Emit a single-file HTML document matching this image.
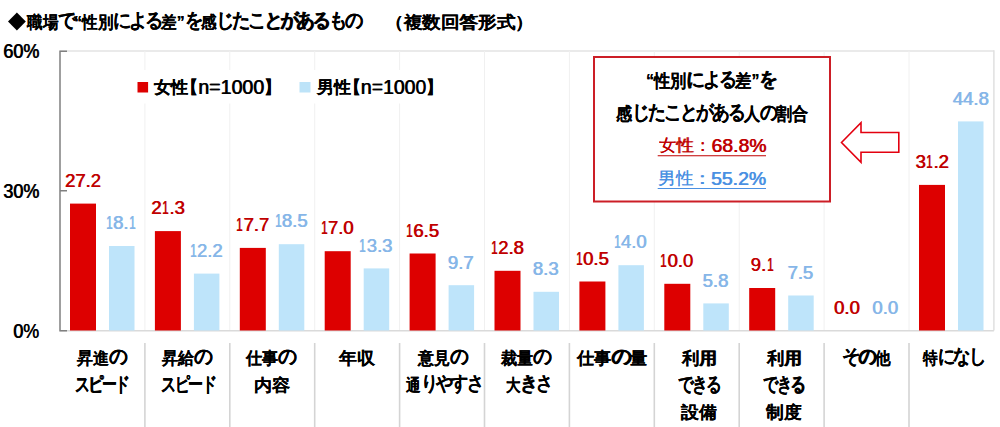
<!DOCTYPE html>
<html><head><meta charset="utf-8"><style>
html,body{margin:0;padding:0;background:#fff;}
body{width:1000px;height:427px;position:relative;overflow:hidden;font-family:"Liberation Sans",sans-serif;}

.t{position:absolute;white-space:nowrap;font-weight:bold;line-height:1;transform-origin:0 0;text-shadow:0.25px 0 0;}
.k{font-size:1.15em;letter-spacing:var(--kls,-0.1em);vertical-align:0.06em;}
.dm{vertical-align:-0.06em;}
.one{display:inline-block;transform:scaleX(0.62);margin:0 -0.07em;}
.d{font-size:var(--ds);font-weight:normal;text-shadow:0.7px 0 0;}

</style></head><body>
<svg width="1000" height="427" style="position:absolute;left:0;top:0"><line x1="60.0" y1="51" x2="993.9" y2="51" stroke="#E3E3E3" stroke-width="1.5"/><line x1="144.9" y1="51" x2="144.9" y2="330.5" stroke="#F0F0F0" stroke-width="1"/><line x1="229.8" y1="51" x2="229.8" y2="330.5" stroke="#F0F0F0" stroke-width="1"/><line x1="314.7" y1="51" x2="314.7" y2="330.5" stroke="#F0F0F0" stroke-width="1"/><line x1="399.6" y1="51" x2="399.6" y2="330.5" stroke="#F0F0F0" stroke-width="1"/><line x1="484.5" y1="51" x2="484.5" y2="330.5" stroke="#F0F0F0" stroke-width="1"/><line x1="569.4" y1="51" x2="569.4" y2="330.5" stroke="#F0F0F0" stroke-width="1"/><line x1="654.3" y1="51" x2="654.3" y2="330.5" stroke="#F0F0F0" stroke-width="1"/><line x1="739.2" y1="51" x2="739.2" y2="330.5" stroke="#F0F0F0" stroke-width="1"/><line x1="824.1" y1="51" x2="824.1" y2="330.5" stroke="#F0F0F0" stroke-width="1"/><line x1="909.0" y1="51" x2="909.0" y2="330.5" stroke="#F0F0F0" stroke-width="1"/><line x1="993.9" y1="50.3" x2="993.9" y2="330.5" stroke="#E0E0E0" stroke-width="1.5"/><line x1="144.9" y1="343" x2="144.9" y2="427" stroke="#D4D4D4" stroke-width="1.6"/><line x1="229.8" y1="343" x2="229.8" y2="427" stroke="#D4D4D4" stroke-width="1.6"/><line x1="314.7" y1="343" x2="314.7" y2="427" stroke="#D4D4D4" stroke-width="1.6"/><line x1="399.6" y1="343" x2="399.6" y2="427" stroke="#D4D4D4" stroke-width="1.6"/><line x1="484.5" y1="343" x2="484.5" y2="427" stroke="#D4D4D4" stroke-width="1.6"/><line x1="569.4" y1="343" x2="569.4" y2="427" stroke="#D4D4D4" stroke-width="1.6"/><line x1="654.3" y1="343" x2="654.3" y2="427" stroke="#D4D4D4" stroke-width="1.6"/><line x1="739.2" y1="343" x2="739.2" y2="427" stroke="#D4D4D4" stroke-width="1.6"/><line x1="824.1" y1="343" x2="824.1" y2="427" stroke="#D4D4D4" stroke-width="1.6"/><line x1="909.0" y1="343" x2="909.0" y2="427" stroke="#D4D4D4" stroke-width="1.6"/><line x1="60.0" y1="330.7" x2="993.9" y2="330.7" stroke="#DADADA" stroke-width="1.5"/><rect x="70.0" y="203.6" width="26" height="126.9" fill="#DD0000"/><rect x="109.0" y="246.0" width="25.5" height="84.5" fill="#BEE4FA"/><rect x="154.9" y="231.1" width="26" height="99.4" fill="#DD0000"/><rect x="193.9" y="273.6" width="25.5" height="56.9" fill="#BEE4FA"/><rect x="239.8" y="247.9" width="26" height="82.6" fill="#DD0000"/><rect x="278.8" y="244.2" width="25.5" height="86.3" fill="#BEE4FA"/><rect x="324.7" y="251.2" width="26" height="79.3" fill="#DD0000"/><rect x="363.7" y="268.4" width="25.5" height="62.1" fill="#BEE4FA"/><rect x="409.6" y="253.5" width="26" height="77.0" fill="#DD0000"/><rect x="448.6" y="285.2" width="25.5" height="45.3" fill="#BEE4FA"/><rect x="494.5" y="270.8" width="26" height="59.7" fill="#DD0000"/><rect x="533.5" y="291.8" width="25.5" height="38.7" fill="#BEE4FA"/><rect x="579.4" y="281.5" width="26" height="49.0" fill="#DD0000"/><rect x="618.4" y="265.2" width="25.5" height="65.3" fill="#BEE4FA"/><rect x="664.3" y="283.8" width="26" height="46.7" fill="#DD0000"/><rect x="703.3" y="303.4" width="25.5" height="27.1" fill="#BEE4FA"/><rect x="749.2" y="288.0" width="26" height="42.5" fill="#DD0000"/><rect x="788.2" y="295.5" width="25.5" height="35.0" fill="#BEE4FA"/><rect x="919.0" y="184.9" width="26" height="145.6" fill="#DD0000"/><rect x="958.0" y="121.4" width="25.5" height="209.1" fill="#BEE4FA"/><path d="M67 51.3 H60.0 V330.8 H67 M60.0 190.8 H67" fill="none" stroke="#808080" stroke-width="1.5"/><rect x="594" y="57" width="236" height="144.5" fill="#fff" stroke="#CC1E26" stroke-width="2"/><path d="M841.5 142.5 L861 122.8 V132.5 H898.8 V152.3 H861 V162.2 Z" fill="#fff" stroke="#E3000F" stroke-width="1.6"/><rect x="125" y="70" width="320" height="33.5" fill="#fff"/><path d="M8 21.5 L16.9 12.6 L25.8 21.5 L16.9 30.4 Z" fill="#000"/><rect x="137.5" y="82" width="10.6" height="10.5" fill="#DD0000"/><rect x="299.5" y="82" width="11" height="10.5" fill="#BDE3F8"/><line x1="657.7" y1="155.7" x2="766" y2="155.7" stroke="#C00000" stroke-width="1.1"/><line x1="657.7" y1="188.5" x2="766" y2="188.5" stroke="#4A90E2" stroke-width="1.1"/></svg>
<div class="t" style="left:27.20px;top:10.40px;color:#000;font-size:17.4px;--ds:1.0em;text-shadow:0.2px 0 0;--kls:-0.12em;transform:scaleX(0.9120);">職場<span class="k">で</span>“性別<span class="k">による</span>差”<span class="k">を</span>感<span class="k">じたことがあるもの</span></div><div class="t" style="left:385.16px;top:14.00px;color:#000;font-size:17.4px;--ds:1.0em;text-shadow:0.2px 0 0;transform:scaleX(1.0940);">（複数回答形式）</div><div class="t" style="left:2.99px;top:42.20px;color:#000;font-size:19.8px;--ds:1.0em;transform:scaleX(0.9103);"><span class="d">60%</span></div><div class="t" style="left:2.99px;top:181.80px;color:#000;font-size:19.8px;--ds:1.0em;transform:scaleX(0.9103);"><span class="d">30%</span></div><div class="t" style="left:13.09px;top:321.80px;color:#000;font-size:19.8px;--ds:1.0em;transform:scaleX(0.9071);"><span class="d">0%</span></div><div class="t" style="left:154.30px;top:78.20px;color:#000;font-size:17.4px;--ds:1.12em;transform:scaleX(1.0060);">女性<span style="margin-left:-0.42em">【</span><span class="d dm">n=1000</span>】</div><div class="t" style="left:317.40px;top:78.20px;color:#000;font-size:17.4px;--ds:1.12em;transform:scaleX(0.9974);">男性<span style="margin-left:-0.42em">【</span><span class="d dm">n=1000</span>】</div><div class="t" style="left:646.10px;top:69.00px;color:#000;font-size:17.6px;--ds:1.0em;transform:scaleX(0.9028);">“性別<span class="k">による</span>差”<span class="k">を</span></div><div class="t" style="left:616.00px;top:101.80px;color:#000;font-size:17.6px;--ds:1.0em;transform:scaleX(0.8903);">感<span class="k">じたことがある</span>人<span class="k">の</span>割合</div><div class="t" style="left:658.80px;top:137.30px;color:#C00000;font-size:17.4px;--ds:1.08em;font-weight:normal;text-shadow:0.35px 0 0;transform:scaleX(1.0269);">女性：<span class="d dm">68.8%</span></div><div class="t" style="left:657.97px;top:169.60px;color:#4A90E2;font-size:17.4px;--ds:1.08em;font-weight:normal;text-shadow:0.35px 0 0;transform:scaleX(1.0340);">男性：<span class="d dm">55.2%</span></div><div class="t" style="left:64.70px;top:171.87px;color:#C00000;font-size:18.5px;--ds:1.0em;"><span class="d">27.2</span></div><div class="t" style="left:105.00px;top:214.33px;color:#86B6E8;font-size:18.5px;--ds:1.0em;"><span class="d"><span class="one">1</span>8.<span class="one">1</span></span></div><div class="t" style="left:151.10px;top:199.40px;color:#C00000;font-size:18.5px;--ds:1.0em;"><span class="d">2<span class="one">1</span>.3</span></div><div class="t" style="left:188.90px;top:241.87px;color:#86B6E8;font-size:18.5px;--ds:1.0em;"><span class="d"><span class="one">1</span>2.2</span></div><div class="t" style="left:235.50px;top:216.20px;color:#C00000;font-size:18.5px;--ds:1.0em;"><span class="d"><span class="one">1</span>7.7</span></div><div class="t" style="left:273.80px;top:212.47px;color:#86B6E8;font-size:18.5px;--ds:1.0em;"><span class="d"><span class="one">1</span>8.5</span></div><div class="t" style="left:319.90px;top:219.47px;color:#C00000;font-size:18.5px;--ds:1.0em;"><span class="d"><span class="one">1</span>7.0</span></div><div class="t" style="left:358.70px;top:236.73px;color:#86B6E8;font-size:18.5px;--ds:1.0em;"><span class="d"><span class="one">1</span>3.3</span></div><div class="t" style="left:405.30px;top:221.80px;color:#C00000;font-size:18.5px;--ds:1.0em;"><span class="d"><span class="one">1</span>6.5</span></div><div class="t" style="left:447.60px;top:253.53px;color:#86B6E8;font-size:18.5px;--ds:1.0em;"><span class="d">9.7</span></div><div class="t" style="left:490.20px;top:239.07px;color:#C00000;font-size:18.5px;--ds:1.0em;"><span class="d"><span class="one">1</span>2.8</span></div><div class="t" style="left:532.50px;top:260.07px;color:#86B6E8;font-size:18.5px;--ds:1.0em;"><span class="d">8.3</span></div><div class="t" style="left:575.10px;top:249.80px;color:#C00000;font-size:18.5px;--ds:1.0em;"><span class="d"><span class="one">1</span>0.5</span></div><div class="t" style="left:612.90px;top:233.47px;color:#86B6E8;font-size:18.5px;--ds:1.0em;"><span class="d"><span class="one">1</span>4.0</span></div><div class="t" style="left:659.50px;top:252.13px;color:#C00000;font-size:18.5px;--ds:1.0em;"><span class="d"><span class="one">1</span>0.0</span></div><div class="t" style="left:702.30px;top:271.73px;color:#86B6E8;font-size:18.5px;--ds:1.0em;"><span class="d">5.8</span></div><div class="t" style="left:750.40px;top:256.33px;color:#C00000;font-size:18.5px;--ds:1.0em;"><span class="d">9.<span class="one">1</span></span></div><div class="t" style="left:787.20px;top:263.80px;color:#86B6E8;font-size:18.5px;--ds:1.0em;"><span class="d">7.5</span></div><div class="t" style="left:833.80px;top:298.80px;color:#C00000;font-size:18.5px;--ds:1.0em;"><span class="d">0.0</span></div><div class="t" style="left:872.10px;top:298.80px;color:#86B6E8;font-size:18.5px;--ds:1.0em;"><span class="d">0.0</span></div><div class="t" style="left:915.20px;top:153.20px;color:#C00000;font-size:18.5px;--ds:1.0em;"><span class="d">3<span class="one">1</span>.2</span></div><div class="t" style="left:952.50px;top:89.73px;color:#86B6E8;font-size:18.5px;--ds:1.0em;"><span class="d">44.8</span></div><div class="t" style="left:76.90px;top:346.60px;color:#000;font-size:17.3px;--ds:1.0em;transform:scaleX(0.9389);">昇進<span class="k">の</span></div><div class="t" style="left:75.36px;top:375.30px;color:#000;font-size:17.3px;--ds:1.0em;transform:scaleX(0.7437);"><span class="k">スピード</span></div><div class="t" style="left:161.90px;top:346.60px;color:#000;font-size:17.3px;--ds:1.0em;transform:scaleX(0.9444);">昇給<span class="k">の</span></div><div class="t" style="left:160.65px;top:375.30px;color:#000;font-size:17.3px;--ds:1.0em;transform:scaleX(0.7507);"><span class="k">スピード</span></div><div class="t" style="left:245.90px;top:346.60px;color:#000;font-size:17.3px;--ds:1.0em;transform:scaleX(0.9481);">仕事<span class="k">の</span></div><div class="t" style="left:253.94px;top:376.80px;color:#000;font-size:17.3px;--ds:1.0em;transform:scaleX(1.0606);">内容</div><div class="t" style="left:338.90px;top:349.60px;color:#000;font-size:17.3px;--ds:1.0em;transform:scaleX(1.0559);">年収</div><div class="t" style="left:417.84px;top:346.60px;color:#000;font-size:17.3px;--ds:1.0em;transform:scaleX(0.9364);">意見<span class="k">の</span></div><div class="t" style="left:405.50px;top:373.80px;color:#000;font-size:17.3px;--ds:1.0em;transform:scaleX(0.8534);">通<span class="k">りやすさ</span></div><div class="t" style="left:500.90px;top:346.60px;color:#000;font-size:17.3px;--ds:1.0em;transform:scaleX(0.9481);">裁量<span class="k">の</span></div><div class="t" style="left:506.10px;top:373.80px;color:#000;font-size:17.3px;--ds:1.0em;transform:scaleX(0.8500);">大<span class="k">きさ</span></div><div class="t" style="left:577.30px;top:346.60px;color:#000;font-size:17.3px;--ds:1.0em;transform:scaleX(1.0130);">仕事<span class="k">の</span>量</div><div class="t" style="left:682.32px;top:349.60px;color:#000;font-size:17.3px;--ds:1.0em;transform:scaleX(1.0235);">利用</div><div class="t" style="left:677.90px;top:375.30px;color:#000;font-size:17.3px;--ds:1.0em;transform:scaleX(0.7852);"><span class="k">できる</span></div><div class="t" style="left:681.30px;top:404.00px;color:#000;font-size:17.3px;--ds:1.0em;transform:scaleX(1.0471);">設備</div><div class="t" style="left:766.52px;top:349.60px;color:#000;font-size:17.3px;--ds:1.0em;transform:scaleX(1.0176);">利用</div><div class="t" style="left:762.90px;top:375.30px;color:#000;font-size:17.3px;--ds:1.0em;transform:scaleX(0.7611);"><span class="k">できる</span></div><div class="t" style="left:765.50px;top:404.00px;color:#000;font-size:17.3px;--ds:1.0em;transform:scaleX(1.0412);">制度</div><div class="t" style="left:841.89px;top:346.60px;color:#000;font-size:17.3px;--ds:1.0em;transform:scaleX(0.9135);"><span class="k">その</span>他</div><div class="t" style="left:922.90px;top:346.60px;color:#000;font-size:17.3px;--ds:1.0em;transform:scaleX(0.8620);">特<span class="k">になし</span></div>
</body></html>
